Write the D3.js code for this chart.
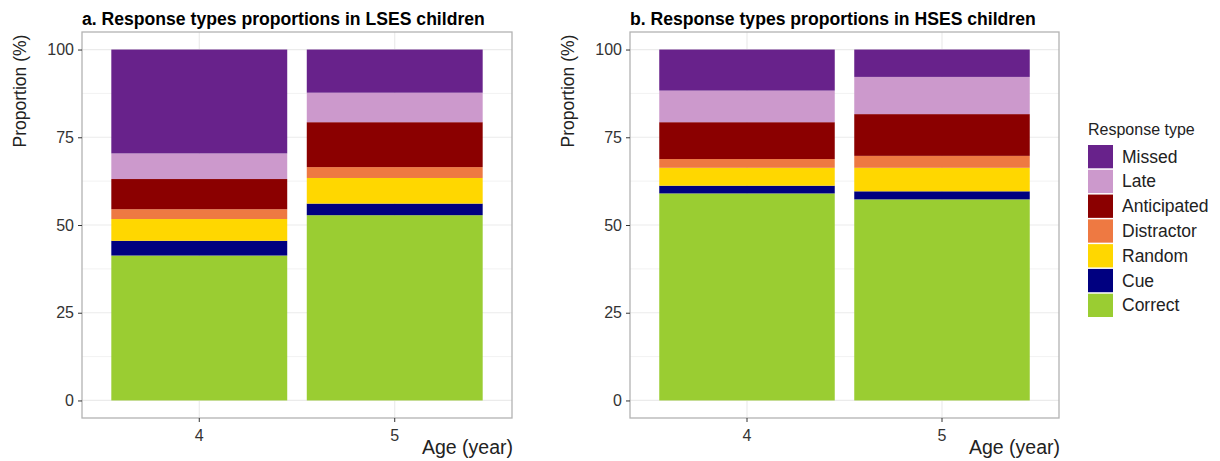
<!DOCTYPE html>
<html>
<head>
<meta charset="utf-8">
<script src="https://cdn.jsdelivr.net/npm/d3@7"></script>
<style>
  body { margin: 0; background: #fff; }
  svg { font-family: "Liberation Sans", Arial, sans-serif; }
</style>
</head>
<body>
<div id="chart"></div>
<script>
// Data (percent, stacked to 100)
const ages = ["4", "5"];
const responseTypes = ["Missed", "Late", "Anticipated", "Distractor", "Random", "Cue", "Correct"];
const yTicks = [0, 25, 50, 75, 100];

// values in responseTypes order
const lsesAge4 = [29.6, 7.3, 8.6, 2.8, 6.2, 4.2, 41.3];
const lsesAge5 = [12.3, 8.4, 12.8, 3.1, 7.3, 3.3, 52.8];
const hsesAge4 = [11.7, 9.0, 10.5, 2.5, 5.1, 2.2, 59.0];
const hsesAge5 = [7.8, 10.6, 11.9, 3.4, 6.7, 2.3, 57.3];

const colors = ["#68228B", "#CC99CC", "#8B0000", "#EE7942", "#FFD700", "#000080", "#9ACD32"];

const color = d3.scaleOrdinal().domain(responseTypes).range(colors);

const svg = d3.select("#chart")
  .append("svg")
  .attr("width", 1220)
  .attr("height", 461);

// turn two age arrays into rows for d3.stack
function toRows(a4, a5) {
  return [a4, a5].map((vals, i) => {
    const row = { age: ages[i] };
    responseTypes.forEach((t, j) => row[t] = vals[j]);
    return row;
  });
}

const stackKeys = responseTypes.slice().reverse(); // Correct at the bottom
const stack = d3.stack().keys(stackKeys);

function drawPanel(left, right, title, rows) {
  const top = 32, bottom = 418;

  const x = d3.scaleBand()
    .domain(ages)
    .range([left, right])
    .paddingInner(0.1)
    .paddingOuter(0.15);

  const y = d3.scaleLinear()
    .domain([-5, 105])
    .range([bottom, top]);

  const g = svg.append("g");

  // minor grid
  g.selectAll(".minor")
    .data([12.5, 37.5, 62.5, 87.5])
    .enter().append("line")
    .attr("x1", left).attr("x2", right)
    .attr("y1", d => y(d)).attr("y2", d => y(d))
    .attr("stroke", "#f2f2f2").attr("stroke-width", 1);

  // major grid
  g.selectAll(".major")
    .data(yTicks)
    .enter().append("line")
    .attr("x1", left).attr("x2", right)
    .attr("y1", d => y(d)).attr("y2", d => y(d))
    .attr("stroke", "#ebebeb").attr("stroke-width", 1.2);

  g.selectAll(".vgrid")
    .data(ages)
    .enter().append("line")
    .attr("x1", d => x(d) + x.bandwidth() / 2).attr("x2", d => x(d) + x.bandwidth() / 2)
    .attr("y1", top).attr("y2", bottom)
    .attr("stroke", "#ebebeb").attr("stroke-width", 1.2);

  // stacked bars
  const series = stack(rows);
  g.selectAll(".layer")
    .data(series)
    .enter().append("g")
    .attr("fill", d => color(d.key))
    .selectAll("rect")
    .data(d => d)
    .enter().append("rect")
    .attr("x", d => x(d.data.age))
    .attr("width", x.bandwidth())
    .attr("y", d => y(d[1]))
    .attr("height", d => y(d[0]) - y(d[1]));

  // panel border
  g.append("rect")
    .attr("x", left).attr("y", top)
    .attr("width", right - left).attr("height", bottom - top)
    .attr("fill", "none")
    .attr("stroke", "#b3b3b3").attr("stroke-width", 1.3);

  // axes
  const yAxis = g.append("g")
    .attr("transform", "translate(" + left + ",0)")
    .call(d3.axisLeft(y).tickValues(yTicks).tickSize(4).tickPadding(4));
  yAxis.select(".domain").remove();
  yAxis.selectAll("line").attr("stroke", "#333");
  yAxis.selectAll("text").attr("fill", "#333").style("font-size", "16px");

  const xAxis = g.append("g")
    .attr("transform", "translate(0," + bottom + ")")
    .call(d3.axisBottom(x).tickSize(4).tickPadding(8));
  xAxis.select(".domain").remove();
  xAxis.selectAll("line").attr("stroke", "#333");
  xAxis.selectAll("text").attr("fill", "#333").style("font-size", "16px");

  // titles
  g.append("text")
    .attr("x", left).attr("y", 25)
    .style("font-size", "17.6px").style("font-weight", "bold")
    .text(title);

  g.append("text")
    .attr("transform", "translate(" + (left - 56) + ",91) rotate(-90)")
    .attr("text-anchor", "middle")
    .style("font-size", "17.5px")
    .attr("fill", "#222")
    .text("Proportion (%)");

  g.append("text")
    .attr("x", right + 1).attr("y", 454)
    .attr("text-anchor", "end")
    .style("font-size", "19.5px")
    .attr("fill", "#222")
    .text("Age (year)");
}

drawPanel(82, 512, "a. Response types proportions in LSES children", toRows(lsesAge4, lsesAge5));
drawPanel(630, 1059, "b. Response types proportions in HSES children", toRows(hsesAge4, hsesAge5));

// legend
const legend = svg.append("g").attr("transform", "translate(1088,0)");
legend.append("text")
  .attr("x", 0).attr("y", 135)
  .style("font-size", "16px")
  .attr("fill", "#222")
  .text("Response type");

const keyY = d3.scaleBand().domain(responseTypes).range([145, 317]).paddingInner(0.06);
const item = legend.selectAll(".item")
  .data(responseTypes)
  .enter().append("g")
  .attr("transform", d => "translate(0," + keyY(d) + ")");
item.append("rect")
  .attr("width", 25).attr("height", keyY.bandwidth())
  .attr("fill", d => color(d));
item.append("text")
  .attr("x", 34).attr("y", keyY.bandwidth() / 2 + 6)
  .style("font-size", "17.5px")
  .attr("fill", "#222")
  .text(d => d);
</script>
</body>
</html>
